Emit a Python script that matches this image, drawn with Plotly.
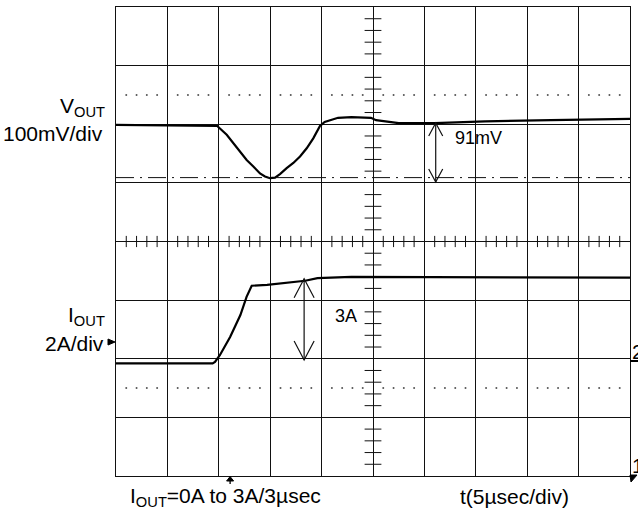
import plotly.graph_objects as go

# ---------------- data ----------------
# V_OUT transient (mV, relative to nominal) vs time (µs)
t_v = [0, 9.85, 10.77, 11.41, 12.06, 12.71, 13.36, 14.01, 14.49, 14.98, 15.47, 15.95,
       16.6, 17.25, 17.9, 18.55, 19.19, 19.68, 19.84, 20.3, 21.6, 22.9, 24.8, 25.3,
       27.5, 31.0, 35.9, 42.3, 50]
v_mv = [-1, -3, -18, -32, -47, -61, -72, -84, -89, -92, -91, -85,
        -75, -66, -55, -41, -24, -10, -3, 4, 11, 12, 11, 7,
        2, 2, 5, 7, 9]

# I_OUT load step (A) vs time (µs)
t_i = [0, 9.4, 9.63, 10.1, 11.1, 12.1, 12.7, 13.2, 14.7, 16.6, 18.4, 19.6, 22.9, 50]
i_a = [0, 0, 0.05, 0.28, 0.90, 1.65, 2.27, 2.65, 2.68, 2.75, 2.82, 2.91, 2.95, 2.93]

V_DROP_MV = 91      # cursor measurement
I_STEP_A = 3
TRIG_US = 11.1

# scope settings
US_PER_DIV = 5
MV_PER_DIV = 100
A_PER_DIV = 2
CH1_POS = 2.0       # divisions
CH2_POS = -2.08     # divisions

# ---------------- geometry ----------------
W, H = 638, 513
L, R, T, B = 116, 8, 7, 37
PW, PH = W - L - R, H - T - B
PX_US = PW / 50.0
PX_DIV = PH / 8.0


def px(x):
    return (x - L) / PW


def py(y):
    return (H - B - y) / PH


vy = [CH1_POS + v / MV_PER_DIV for v in v_mv]
iy = [CH2_POS + a / A_PER_DIV for a in i_a]

INK = "#111111"
fig = go.Figure()

# dotted reference lines at +/-2.5 div
dots_x = [x for x in range(1, 50) if x % 5]
fig.add_trace(go.Scatter(x=dots_x * 2, y=[2.5] * len(dots_x) + [-2.5] * len(dots_x),
                         mode="markers", marker=dict(size=2, color="#555"),
                         hoverinfo="skip", showlegend=False))
# minor ticks on centre axes
fig.add_trace(go.Scatter(x=[x for x in range(1, 50) if x % 5], y=[0] * 40, mode="markers",
                         marker=dict(symbol="line-ns", size=8, line=dict(width=1, color=INK)),
                         hoverinfo="skip", showlegend=False))
ty = [k / 5 for k in range(-19, 20) if k % 5]
fig.add_trace(go.Scatter(x=[25] * len(ty), y=ty, mode="markers",
                         marker=dict(symbol="line-ew", size=12, line=dict(width=1, color=INK)),
                         hoverinfo="skip", showlegend=False))

# cursor dash-dot line at V_OUT minimum
fig.add_shape(type="line", xref="x", yref="y", x0=0, x1=50,
              y0=CH1_POS - V_DROP_MV / MV_PER_DIV, y1=CH1_POS - V_DROP_MV / MV_PER_DIV,
              line=dict(color=INK, width=1, dash="18px,6px,2px,6px"))

# traces
fig.add_trace(go.Scatter(x=t_v, y=vy, mode="lines", line=dict(color="black", width=2.2),
                         showlegend=False))
fig.add_trace(go.Scatter(x=t_i, y=iy, mode="lines", line=dict(color="black", width=2.2),
                         showlegend=False))


def dbl_arrow(x, y_top, y_bot, hw_px, hh_px):
    hw = hw_px / PX_US
    hh = hh_px / PX_DIV
    fig.add_shape(type="line", xref="x", yref="y", x0=x, x1=x, y0=y_top, y1=y_bot,
                  line=dict(color=INK, width=1.2))
    fig.add_shape(type="path", xref="x", yref="y",
                  path=f"M{x-hw},{y_top-hh} L{x},{y_top} L{x+hw},{y_top-hh}",
                  line=dict(color=INK, width=1.2))
    fig.add_shape(type="path", xref="x", yref="y",
                  path=f"M{x-hw},{y_bot+hh} L{x},{y_bot} L{x+hw},{y_bot+hh}",
                  line=dict(color=INK, width=1.2))


dbl_arrow(31.1, 2.02, 1.015, 7, 13)
dbl_arrow(18.3, CH2_POS + 2.85 / A_PER_DIV + 0.02, CH2_POS + 0.06, 10, 19)


def ppath(pts, fill=True):
    d = "M" + " L".join(f"{px(a)},{py(b)}" for a, b in pts) + (" Z" if fill else "")
    fig.add_shape(type="path", xref="paper", yref="paper", path=d,
                  fillcolor="black" if fill else None,
                  line=dict(color="black", width=1))


# channel 2 marker (left), trigger marker (bottom), right-edge channel markers
ppath([(108, 339), (115, 342), (108, 345)])
tx = L + TRIG_US * PX_US
ppath([(tx - 3.5, 481), (tx, 476.5), (tx + 3.5, 481)])
fig.add_shape(type="line", xref="paper", yref="paper", x0=px(tx), x1=px(tx),
              y0=py(479), y1=py(484), line=dict(color="black", width=1.3))
fig.add_shape(type="line", xref="paper", yref="paper", x0=px(630), x1=px(640),
              y0=py(361), y1=py(361), line=dict(color="black", width=2))
ppath([(630, 475), (637, 475), (631, 482)])

FONT = dict(family="Liberation Sans, Arial, sans-serif", size=21, color="black")


def label(text, x, y, xanchor="left", size=21):
    f = dict(FONT)
    f["size"] = size
    fig.add_annotation(text=text, xref="paper", yref="paper", x=px(x), y=py(y),
                       xanchor=xanchor, yanchor="middle", showarrow=False, font=f)


label("V<sub>OUT</sub>", 107, 107, "right")
label("100mV/div", 105, 133, "right")
label("I<sub>OUT</sub>", 107, 316, "right")
label("2A/div", 106, 343, "right")
label("I<sub>OUT</sub>=0A to 3A/3µsec", 128, 497)
label("t(5µsec/div)", 458, 497)
label(f"{V_DROP_MV}mV", 453, 138, size=18)
label(f"{I_STEP_A}A", 333, 316, size=18)
label("2", 630, 351)
label("1", 630, 465)

axis_common = dict(showgrid=True, gridcolor=INK, gridwidth=1, zeroline=False,
                   showticklabels=False, ticks="", showline=True, linecolor=INK,
                   linewidth=1, mirror=True, fixedrange=True)
fig.update_xaxes(range=[0, 50], dtick=US_PER_DIV, tick0=0, **axis_common)
fig.update_yaxes(range=[-4, 4], dtick=1, tick0=0, **axis_common)

fig.update_layout(width=W, height=H, margin=dict(l=L, r=R, t=T, b=B, pad=0),
                  paper_bgcolor="white", plot_bgcolor="white", showlegend=False)

fig.write_html("out.html", config={"displayModeBar": False},
               post_script="document.body.style.margin='0';document.body.style.overflow='hidden';")
